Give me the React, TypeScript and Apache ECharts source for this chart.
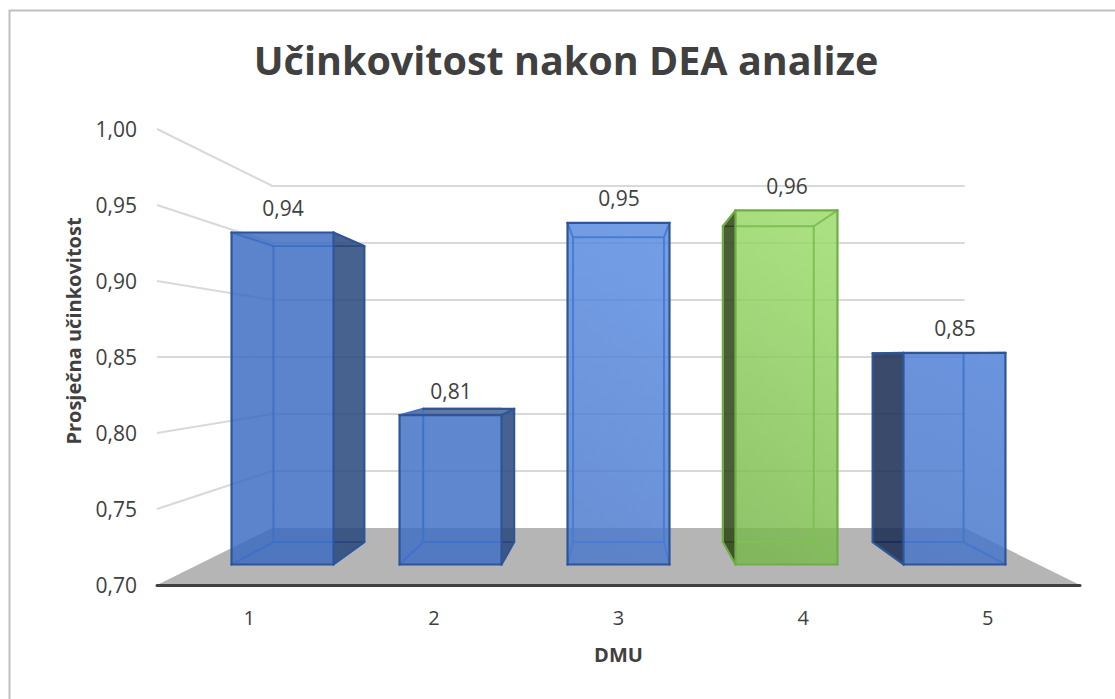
import React, { useEffect, useRef } from "react";
import * as echarts from "echarts";

const categories = ["1", "2", "3", "4", "5"];
const values = [0.94, 0.808, 0.947, 0.956, 0.853];
const valueLabels = ["0,94", "0,81", "0,95", "0,96", "0,85"];
const yTicks = [0.75, 0.8, 0.85, 0.9, 0.95, 1.0];

const FONT = "'Open Sans', sans-serif";
const Y_MIN = 0.7;
const Y_MAX = 1.0;
const HORIZON = 0.85;
const BACK_WALL = 0.75;
const BAR_FRONT = 0.91;
const BAR_BACK = 0.8115;
const BAR_FRAC = 0.607;

const palette = [
  { top: "#3869c1", bottom: "#3869c1", dark: "#27467b", edge: "#2f5597", inner: "#3f70c4" },
  { top: "#3c6dc6", bottom: "#3c6dc6", dark: "#27467b", edge: "#2f5597", inner: "#4172c8" },
  { top: "#5488e0", bottom: "#4877cb", dark: "#27467b", edge: "#2f5597", inner: "#4a7dd2" },
  { top: "#98d966", bottom: "#76b749", dark: "#2c4314", edge: "#70ad47", inner: "#7fbf55" },
  { top: "#4a7cd6", bottom: "#4373c8", dark: "#172a51", edge: "#2f5597", inner: "#4476ca" },
];

function App() {
  const ref = useRef<HTMLDivElement>(null);
  useEffect(() => {
    document.body.style.margin = "0";
    const chart = echarts.init(ref.current!, null, { renderer: "svg" });

    const vanish = (api: any) => api.coord([2, HORIZON]) as number[];
    const project = (p: number[], v: number[], s: number) => [
      v[0] + (p[0] - v[0]) * s,
      v[1] + (p[1] - v[1]) * s,
    ];

    const renderWalls = (params: any, api: any) => {
      const v = vanish(api);
      const cs = params.coordSys;
      const left = cs.x;
      const right = cs.x + cs.width;
      const val = api.value(0);
      const y = api.coord([0, val])[1];
      const a = [left, y];
      const b = project(a, v, BACK_WALL);
      const c = project([right, y], v, BACK_WALL);
      return {
        type: "polyline",
        shape: { points: [a, b, c] },
        style: { stroke: "#d9d9d9", lineWidth: 2, fill: "none" },
      };
    };

    const renderFloor = (params: any, api: any) => {
      const v = vanish(api);
      const cs = params.coordSys;
      const y = api.coord([0, Y_MIN])[1];
      const l = [cs.x, y];
      const r = [cs.x + cs.width, y];
      return {
        type: "polygon",
        shape: {
          points: [l, project(l, v, BACK_WALL), project(r, v, BACK_WALL), r],
        },
        style: { fill: "#b5b5b5" },
      };
    };

    const renderBar = (params: any, api: any) => {
      const i = params.dataIndex;
      const colors = palette[i];
      const v = vanish(api);
      const band = api.size([1, 0])[0];
      const cx = api.coord([i, Y_MIN])[0];
      const yTop = api.coord([i, api.value(1)])[1];
      const yBot = api.coord([i, Y_MIN])[1];
      const hw = (band * BAR_FRAC) / 2;
      const pt = (x: number, y: number, s: number) => project([x, y], v, s);
      const fTL = pt(cx - hw, yTop, BAR_FRONT);
      const fTR = pt(cx + hw, yTop, BAR_FRONT);
      const fBL = pt(cx - hw, yBot, BAR_FRONT);
      const fBR = pt(cx + hw, yBot, BAR_FRONT);
      const bTL = pt(cx - hw, yTop, BAR_BACK);
      const bTR = pt(cx + hw, yTop, BAR_BACK);
      const bBL = pt(cx - hw, yBot, BAR_BACK);
      const bBR = pt(cx + hw, yBot, BAR_BACK);

      const children: any[] = [];
      const poly = (points: number[][], fill: any, opacity: number) => ({
        type: "polygon",
        shape: { points },
        style: { fill, opacity },
      });
      const line = (p: number[], q: number[], stroke: string, lineWidth: number) => ({
        type: "line",
        shape: { x1: p[0], y1: p[1], x2: q[0], y2: q[1] },
        style: { stroke, lineWidth, lineCap: "round" },
      });

      const rightOut = bTR[0] > fTR[0];
      const leftOut = bTL[0] < fTL[0];
      const topOut = bTL[1] < fTL[1] - 0.5;

      if (rightOut) children.push(poly([fTR, bTR, bBR, fBR], colors.dark, 0.85));
      if (leftOut) children.push(poly([fTL, bTL, bBL, fBL], colors.dark, 0.85));
      if (topOut) children.push(poly([fTL, bTL, bTR, fTR], colors.dark, 0.72));

      children.push(
        poly(
          [fTL, fTR, fBR, fBL],
          new echarts.graphic.LinearGradient(0.5, 0, 0.3, 1, [
            { offset: 0, color: colors.top },
            { offset: 1, color: colors.bottom },
          ]),
          0.82,
        ),
      );

      // inner edges, seen through the front face; the part over a dark side stays dark
      const innerL = leftOut ? fTL[0] : bTL[0];
      const innerR = rightOut ? fTR[0] : bTR[0];
      children.push(line([innerL, bTL[1]], [innerR, bTL[1]], colors.inner, 2));
      children.push(line([innerL, bBL[1]], [innerR, bBL[1]], colors.inner, 2));
      if (leftOut) {
        children.push(line(bTL, [innerL, bTL[1]], colors.dark, 1.5));
        children.push(line(bBL, [innerL, bBL[1]], colors.dark, 1.5));
      } else {
        children.push(line(bTL, bBL, colors.inner, 2));
        children.push(line(fTL, bTL, colors.inner, 2));
        children.push(line(bBL, fBL, colors.inner, 2));
      }
      if (rightOut) {
        children.push(line([innerR, bTR[1]], bTR, colors.dark, 1.5));
        children.push(line([innerR, bBR[1]], bBR, colors.dark, 1.5));
      } else {
        children.push(line(bTR, bBR, colors.inner, 2));
        children.push(line(fTR, bTR, colors.inner, 2));
        children.push(line(bBR, fBR, colors.inner, 2));
      }

      // outer edges
      const e = colors.edge;
      const w = 2.2;
      children.push(line(fTL, fTR, e, w));
      children.push(line(fTR, fBR, e, w));
      children.push(line(fBR, fBL, e, w));
      children.push(line(fBL, fTL, e, w));
      if (rightOut) {
        children.push(line(fTR, bTR, e, w));
        children.push(line(bTR, bBR, e, w));
        children.push(line(bBR, fBR, e, w));
      }
      if (leftOut) {
        children.push(line(fTL, bTL, e, w));
        children.push(line(bTL, bBL, e, w));
        children.push(line(bBL, fBL, e, w));
      }
      if (topOut) children.push(line(bTL, bTR, e, w));

      children.push({
        type: "text",
        x: (fTL[0] + fTR[0]) / 2 + 0.5,
        y: fTL[1] - 24.5,
        style: {
          text: valueLabels[i],
          fontFamily: FONT,
          fontSize: 21,
          fill: "#404040",
          align: "center",
          verticalAlign: "middle",
        },
      });
      return { type: "group", children };
    };

    chart.setOption({
      animation: false,
      backgroundColor: "#ffffff",
      title: {
        text: "Učinkovitost nakon DEA analize",
        left: 561,
        top: 35,
        textAlign: "center",
        textStyle: { fontFamily: FONT, fontSize: 39.5, fontWeight: "bold", color: "#404040" },
      },
      grid: { left: 157, top: 129, width: 923, height: 456, containLabel: false },
      xAxis: {
        type: "category",
        data: categories,
        z: 3,
        name: "DMU",
        nameLocation: "middle",
        nameGap: 59,
        nameTextStyle: { fontFamily: FONT, fontSize: 20, fontWeight: "bold", color: "#404040" },
        axisLine: { show: true, lineStyle: { color: "#404040", width: 3, cap: "round" } },
        axisTick: { show: false },
        axisLabel: { fontFamily: FONT, fontSize: 20, color: "#404040", margin: 22 },
      },
      yAxis: {
        type: "value",
        min: Y_MIN,
        max: Y_MAX,
        interval: 0.05,
        name: "Prosječna učinkovitost",
        nameLocation: "middle",
        nameGap: 74,
        nameTextStyle: {
          fontFamily: FONT,
          fontSize: 20,
          fontWeight: "bold",
          color: "#404040",
          padding: [0, 0, 0, 52],
        },
        axisLine: { show: false },
        axisTick: { show: false },
        splitLine: { show: false },
        axisLabel: {
          fontFamily: FONT,
          fontSize: 21,
          color: "#404040",
          margin: 20,
          formatter: (val: number) => val.toFixed(2).replace(".", ","),
        },
      },
      graphic: [
        {
          type: "polyline",
          shape: { points: [[9.5, 699], [9.5, 10.5], [1115, 10.5]] },
          style: { stroke: "#bfbfbf", lineWidth: 2, fill: "none" },
          silent: true,
        },
      ],
      series: [
        { type: "custom", z: 1, silent: true, renderItem: renderFloor, data: [[0, Y_MIN]], encode: { x: 0, y: 1 }, clip: false },
        { type: "custom", z: 1, silent: true, renderItem: renderWalls, data: yTicks.map((t) => [t]), clip: false },
        {
          type: "custom",
          z: 5,
          silent: true,
          renderItem: renderBar,
          data: values.map((val, i) => [i, val]),
          encode: { x: 0, y: 1 },
          clip: false,
        },
      ],
    });
    return () => chart.dispose();
  }, []);
  return <div ref={ref} style={{ width: 1115, height: 699 }} />;
}

export default App;
